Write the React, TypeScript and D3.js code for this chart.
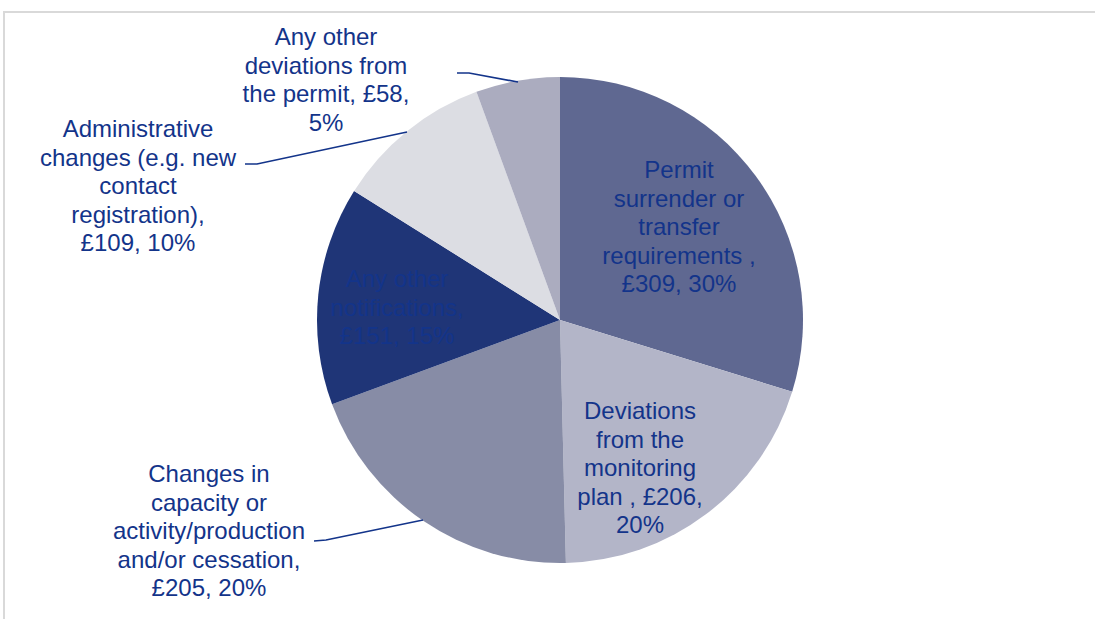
import React from "react";
import * as d3 from "d3";

const categories = [
  "Permit surrender or transfer requirements",
  "Deviations from the monitoring plan",
  "Changes in capacity or activity/production and/or cessation",
  "Any other notifications",
  "Administrative changes (e.g. new contact registration)",
  "Any other deviations from the permit",
];
const values = [309, 206, 205, 151, 109, 58];
const colors = ["#5f6891", "#b3b5c8", "#878ca6", "#1f3577", "#dcdde3", "#abacbf"];
const labelLines = [
  ["Permit", "surrender or", "transfer", "requirements ,", "£309, 30%"],
  ["Deviations", "from the", "monitoring", "plan , £206,", "20%"],
  ["Changes in", "capacity or", "activity/production", "and/or cessation,", "£205, 20%"],
  ["Any other", "notifications,", "£151, 15%"],
  ["Administrative", "changes (e.g. new", "contact", "registration),", "£109, 10%"],
  ["Any other", "deviations from", "the permit, £58,", "5%"],
];
// label anchor: center x, first baseline y
const labelPos: [number, number][] = [
  [679, 178],
  [640, 419],
  [209, 482],
  [397, 287],
  [138, 137],
  [326, 45],
];
// leader lines: [text-side point, elbow, pie-side point] (null = inside label)
const leaders: ([number, number][] | null)[] = [
  null,
  null,
  [[314, 541], [326, 540], [423, 520]],
  null,
  [[245, 164], [257, 164], [407, 132]],
  [[457, 73], [469, 73], [518, 82]],
];

const W = 1095;
const H = 619;
const cx = 560;
const cy = 320;
const R = 243;
const textColor = "#13348a";
const lineH = 28.6;

export default function App() {
  const pie = d3.pie<number>().sort(null).value((d) => d)(values);
  const arc = d3.arc<d3.PieArcDatum<number>>().innerRadius(0).outerRadius(R);
  const line = d3.line();
  return (
    <svg
      width={W}
      height={H}
      style={{ position: "absolute", left: 0, top: 0, display: "block" }}
      fontFamily="'Liberation Sans', Arial, sans-serif"
    >
      <rect x={0} y={0} width={W} height={H} fill="#ffffff" />
      <rect x={4} y={12} width={W + 20} height={H + 20} fill="none" stroke="#d9d9d9" strokeWidth={2} />
      <g transform={`translate(${cx},${cy})`}>
        {pie.map((p, i) => (
          <path key={categories[i]} d={arc(p) || ""} fill={colors[i]} />
        ))}
      </g>
      {leaders.map((pts, i) =>
        pts ? (
          <path key={"l" + i} d={line(pts) || ""} fill="none" stroke={textColor} strokeWidth={1.7} />
        ) : null
      )}
      {labelLines.map((lines, i) => (
        <text key={"t" + i} fontSize={24} fill={textColor} textAnchor="middle">
          {lines.map((ln, j) => (
            <tspan key={j} x={labelPos[i][0]} y={labelPos[i][1] + j * lineH}>
              {ln}
            </tspan>
          ))}
        </text>
      ))}
    </svg>
  );
}
